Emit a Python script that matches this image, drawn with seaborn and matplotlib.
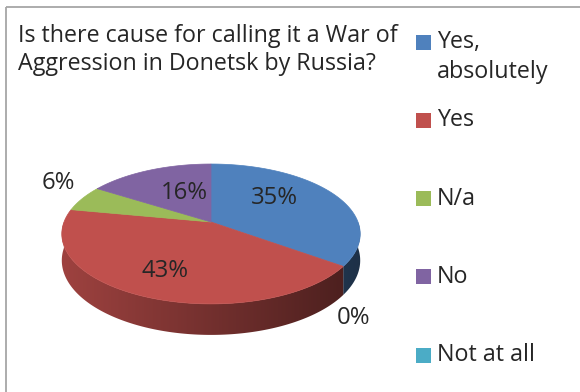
import numpy as np
import matplotlib
matplotlib.use("Agg")
import matplotlib.pyplot as plt
import seaborn as sns
from matplotlib.patches import Polygon, Rectangle
from matplotlib.colors import to_rgb

# ---------------- data ----------------
title_lines = ["Is there cause for calling it a War of",
               "Aggression in Donetsk by Russia?"]
categories = ["Yes,\nabsolutely", "Yes", "N/a", "No", "Not at all"]
values = [35, 43, 6, 16, 0]
value_labels = ["35%", "43%", "6%", "16%", "0%"]
colors = ["#4F81BD", "#C0504D", "#9BBB59", "#8064A2", "#4BACC6"]

# ---------------- style ----------------
sns.set_theme(style="white")
plt.rcParams['font.family'] = ['Open Sans', 'DejaVu Sans']
TXT = "#262626"

W, H = 580, 392
fig = plt.figure(figsize=(W / 100, H / 100), dpi=100)
ax = fig.add_axes([0, 0, 1, 1])
ax.set_xlim(0, W)
ax.set_ylim(H, 0)
ax.axis('off')

# fit the font size so the first title line spans ~379 px
renderer = fig.canvas.get_renderer()
probe = ax.text(0, 0, title_lines[0], fontsize=15)
wpx = probe.get_window_extent(renderer).width
probe.remove()
FS = 15 * 379.0 / wpx

# 3D pie geometry (pixel space, mild perspective)
cx, cy, rx, ry, depth, persp = 211, 222, 147, 67.9, 25.7, 0.171


def proj(theta_deg, r=1.0, h=0.0):
    t = np.radians(theta_deg)
    u = r * np.cos(t)
    v = r * np.sin(t)
    d = 1 + persp * v
    return cx + rx * u / d, cy - ry * v / d + depth * h / d


total = float(sum(values))
cum = np.concatenate([[0], np.cumsum(values)])
starts = 90 - 360 * cum[:-1] / total
ends = 90 - 360 * cum[1:] / total

# side walls (front half only), gradient shading clipped to wall shape
xs = np.linspace(0, W, 600)
for a0, a1, col in zip(starts, ends, colors):
    if a0 == a1:
        continue
    th = np.linspace(a1, a0, max(2, int(abs(a0 - a1) / 0.25) + 1))
    vis = np.sin(np.radians(th)) < 0.0
    if vis.sum() < 2:
        continue
    tv = th[vis]
    top = [proj(t) for t in tv]
    bot = [proj(t, h=1) for t in tv[::-1]]
    poly = Polygon(top + bot, closed=True, facecolor='none', edgecolor='none')
    ax.add_patch(poly)
    u = np.clip((xs - cx) / rx, -1, 1)
    f = 0.6 - 0.22 * u
    rgb = np.clip(np.outer(f, to_rgb(col)), 0, 1)
    img = np.tile(rgb[None, :, :], (2, 1, 1))
    im = ax.imshow(img, extent=(0, W, H, 0), aspect='auto', zorder=1,
                   interpolation='bilinear')
    im.set_clip_path(poly)
    ax.set_xlim(0, W)
    ax.set_ylim(H, 0)

# top faces
for a0, a1, col in zip(starts, ends, colors):
    if a0 == a1:
        continue
    n = max(2, int(abs(a0 - a1) / 0.5) + 1)
    th = np.linspace(a0, a1, n)
    pts = [proj(0, r=0.0)] + [proj(t) for t in th]
    ax.add_patch(Polygon(pts, closed=True, facecolor=col, edgecolor=col,
                         lw=0.5, zorder=2))

# value labels: (radius factor, lift) at slice mid angle; zero slice near first boundary
label_place = [(0.5, -0.36), (0.7, 0.0), (1.2, -0.45), (0.4, -0.27), (1.07, 1.68)]
for i, (lab, (rr, hh)) in enumerate(zip(value_labels, label_place)):
    if values[i] == 0:
        ang = ends[0]
    else:
        ang = 0.5 * (starts[i] + ends[i])
    x, y = proj(ang, r=rr, h=hh)
    ax.text(x, y, lab, ha='center', va='center', fontsize=FS * 1.03, color=TXT, zorder=5)

# title
for k, line in enumerate(title_lines):
    ax.text(18, 42 + 28 * k, line, ha='left', va='baseline', fontsize=FS, color=TXT)

# legend
for i, (cat, col) in enumerate(zip(categories, colors)):
    yc = 42 + i * 78.3
    ax.add_patch(Rectangle((416, yc - 7.5), 15, 15, facecolor=col, edgecolor='none'))
    for k, line in enumerate(cat.split("\n")):
        ax.text(437, yc + 30 * k, line, ha='left', va='center', fontsize=FS, color=TXT)

# frame (top and left edges visible)
ax.plot([6, W], [7, 7], color="#A6A6A6", lw=1.3, solid_capstyle='butt')
ax.plot([6, 6], [7, H], color="#A6A6A6", lw=1.3, solid_capstyle='butt')
ax.set_xlim(0, W)
ax.set_ylim(H, 0)

fig.savefig("out.png", dpi=100)
